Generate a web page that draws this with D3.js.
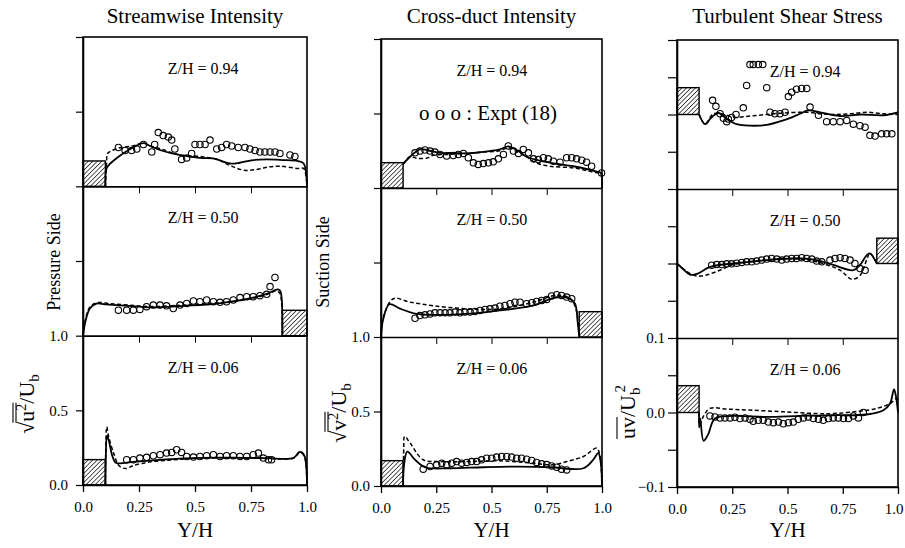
<!DOCTYPE html>
<html>
<head>
<meta charset="utf-8">
<script src="https://cdn.jsdelivr.net/npm/d3@7"></script>
<style>
body { margin: 0; background: #fff; }
text { font-family: "Liberation Serif", "Times New Roman", serif; fill: #000; }
</style>
</head>
<body>
<svg id="chart" width="905" height="548"></svg>
<script>
// stacked profiles: each column has three sub-panels (Z/H = 0.06, 0.50, 0.94)

const titles = ["Streamwise Intensity", "Cross-duct Intensity", "Turbulent Shear Stress"];
const zLabels = ["Z/H = 0.06", "Z/H = 0.50", "Z/H = 0.94"];
const xTicks = [0, 0.25, 0.5, 0.75, 1];
const xTickLabels = ["0.0", "0.25", "0.5", "0.75", "1.0"];

// hatched blocks per sub-panel: [x0, x1, height]
const uHatch = [[0, 0.1, 0.17], [0.89, 1, 0.17], [0, 0.1, 0.17]];
const vHatch = [[0, 0.1, 0.17], [0.897, 1, 0.17], [0, 0.1, 0.17]];
const uvHatch = [[0, 0.1, 0.036], [0.904, 1, 0.034], [0, 0.1, 0.036]];

// ---- streamwise intensity ----
const u06Solid = [[0.1,0],[0.102,0.2],[0.107,0.33],[0.115,0.3],[0.13,0.2],[0.145,0.15],[0.165,0.145],[0.225,0.155],[0.373,0.172],[0.522,0.182],[0.671,0.183],[0.82,0.18],[0.94,0.182],[0.965,0.22],[0.975,0.22],[0.99,0.19],[1.0,0]];
const u06Dashed = [[0.1,0],[0.102,0.25],[0.106,0.39],[0.115,0.32],[0.14,0.2],[0.16,0.13],[0.19,0.11],[0.225,0.13],[0.3,0.155],[0.4,0.168],[0.52,0.18],[0.671,0.182],[0.82,0.178],[0.94,0.18],[0.965,0.215],[0.975,0.215],[0.99,0.185],[1.0,0]];
const u06Expt = [[0.195,0.169],[0.225,0.169],[0.254,0.18],[0.284,0.185],[0.314,0.196],[0.344,0.203],[0.373,0.214],[0.396,0.218],[0.418,0.236],[0.44,0.218],[0.463,0.191],[0.493,0.187],[0.522,0.191],[0.552,0.196],[0.582,0.203],[0.612,0.191],[0.641,0.196],[0.671,0.196],[0.701,0.191],[0.731,0.191],[0.76,0.203],[0.783,0.214],[0.805,0.18],[0.828,0.169],[0.842,0.169]];

const u50Solid = [[0,0],[0.01,0.09],[0.03,0.18],[0.06,0.215],[0.1,0.21],[0.2,0.2],[0.3,0.19],[0.45,0.2],[0.6,0.215],[0.745,0.25],[0.82,0.28],[0.87,0.31],[0.88,0.3],[0.887,0.25],[0.89,0]];
const u50Dashed = [[0,0],[0.01,0.1],[0.03,0.19],[0.06,0.22],[0.12,0.215],[0.2,0.205],[0.3,0.195],[0.45,0.205],[0.6,0.22],[0.745,0.245],[0.82,0.275],[0.865,0.3],[0.88,0.28],[0.89,0]];
const u50Expt = [[0.158,0.171],[0.195,0.171],[0.225,0.171],[0.254,0.176],[0.284,0.194],[0.314,0.205],[0.344,0.205],[0.373,0.2],[0.403,0.182],[0.433,0.205],[0.463,0.216],[0.493,0.232],[0.522,0.227],[0.552,0.239],[0.582,0.227],[0.612,0.223],[0.641,0.227],[0.671,0.239],[0.701,0.255],[0.731,0.261],[0.76,0.261],[0.79,0.268],[0.82,0.277],[0.835,0.329],[0.857,0.39]];

const u94Solid = [[0.1,0],[0.105,0.12],[0.12,0.15],[0.16,0.2],[0.2,0.24],[0.27,0.29],[0.3,0.27],[0.35,0.24],[0.43,0.21],[0.52,0.19],[0.58,0.187],[0.655,0.153],[0.7,0.158],[0.76,0.176],[0.82,0.18],[0.89,0.176],[0.96,0.169],[0.985,0.153],[1.0,0]];
const u94Dashed = [[0.1,0],[0.105,0.15],[0.11,0.22],[0.13,0.24],[0.17,0.26],[0.22,0.27],[0.27,0.29],[0.3,0.27],[0.35,0.25],[0.43,0.21],[0.52,0.2],[0.6,0.18],[0.655,0.14],[0.72,0.108],[0.78,0.114],[0.83,0.13],[0.88,0.135],[0.96,0.12],[0.985,0.12],[1.0,0]];
const u94Expt = [[0.158,0.26],[0.188,0.24],[0.217,0.24],[0.24,0.25],[0.27,0.28],[0.307,0.23],[0.32,0.28],[0.336,0.36],[0.358,0.34],[0.381,0.33],[0.396,0.31],[0.41,0.25],[0.44,0.18],[0.463,0.19],[0.485,0.22],[0.5,0.28],[0.522,0.28],[0.545,0.28],[0.567,0.31],[0.597,0.25],[0.619,0.26],[0.641,0.28],[0.664,0.27],[0.693,0.26],[0.723,0.26],[0.745,0.25],[0.768,0.24],[0.79,0.23],[0.812,0.23],[0.835,0.23],[0.857,0.23],[0.879,0.22],[0.924,0.21],[0.946,0.2]];

// ---- cross-duct intensity ----
const v06Solid = [[0.1,0],[0.105,0.15],[0.119,0.23],[0.154,0.176],[0.199,0.126],[0.312,0.119],[0.463,0.126],[0.614,0.13],[0.764,0.126],[0.916,0.119],[0.96,0.176],[0.983,0.22],[0.995,0.15],[1.0,0]];
const v06Dashed = [[0.1,0],[0.103,0.25],[0.107,0.333],[0.131,0.29],[0.191,0.176],[0.267,0.164],[0.388,0.164],[0.538,0.169],[0.69,0.153],[0.78,0.142],[0.84,0.164],[0.916,0.198],[0.976,0.254],[0.99,0.21],[1.0,0]];
const v06Expt = [[0.191,0.113],[0.222,0.131],[0.252,0.142],[0.275,0.153],[0.297,0.142],[0.32,0.153],[0.342,0.164],[0.365,0.153],[0.388,0.158],[0.41,0.164],[0.433,0.164],[0.455,0.176],[0.478,0.187],[0.501,0.187],[0.523,0.194],[0.546,0.198],[0.569,0.198],[0.591,0.194],[0.614,0.187],[0.636,0.187],[0.659,0.18],[0.682,0.171],[0.704,0.158],[0.727,0.149],[0.75,0.144],[0.772,0.135],[0.795,0.126],[0.817,0.113],[0.84,0.108]];

const v50Solid = [[0,0],[0.01,0.12],[0.038,0.22],[0.086,0.19],[0.16,0.155],[0.237,0.149],[0.388,0.155],[0.538,0.178],[0.69,0.212],[0.795,0.268],[0.855,0.257],[0.878,0.223],[0.89,0.1],[0.897,0]];
const v50Dashed = [[0,0],[0.01,0.13],[0.056,0.257],[0.131,0.234],[0.237,0.21],[0.388,0.189],[0.538,0.189],[0.69,0.234],[0.795,0.28],[0.855,0.26],[0.882,0.189],[0.895,0.05],[0.9,0]];
const v50Expt = [[0.154,0.126],[0.176,0.144],[0.199,0.149],[0.222,0.155],[0.244,0.162],[0.267,0.162],[0.29,0.162],[0.312,0.162],[0.335,0.167],[0.357,0.162],[0.38,0.167],[0.403,0.167],[0.425,0.171],[0.448,0.178],[0.471,0.185],[0.493,0.189],[0.516,0.194],[0.538,0.207],[0.561,0.212],[0.584,0.223],[0.606,0.234],[0.629,0.234],[0.659,0.223],[0.682,0.23],[0.704,0.239],[0.727,0.245],[0.75,0.252],[0.772,0.275],[0.795,0.284],[0.817,0.279],[0.84,0.268],[0.863,0.257]];

const v94Solid = [[0.1,0.16],[0.131,0.21],[0.176,0.26],[0.22,0.25],[0.267,0.236],[0.33,0.235],[0.388,0.232],[0.45,0.24],[0.538,0.26],[0.576,0.28],[0.62,0.25],[0.658,0.21],[0.764,0.17],[0.87,0.146],[0.976,0.11],[0.995,0.1],[1.0,0]];
const v94Dashed = [[0.1,0.16],[0.131,0.21],[0.16,0.2],[0.206,0.2],[0.237,0.22],[0.3,0.225],[0.388,0.232],[0.45,0.24],[0.538,0.25],[0.576,0.27],[0.62,0.24],[0.658,0.21],[0.7,0.17],[0.764,0.146],[0.87,0.135],[0.95,0.11],[0.995,0.09],[1.0,0]];
const v94Expt = [[0.154,0.236],[0.176,0.248],[0.199,0.255],[0.222,0.248],[0.244,0.241],[0.267,0.225],[0.297,0.214],[0.327,0.218],[0.35,0.225],[0.373,0.232],[0.395,0.203],[0.418,0.169],[0.44,0.158],[0.463,0.164],[0.486,0.169],[0.508,0.176],[0.531,0.196],[0.554,0.225],[0.576,0.282],[0.599,0.248],[0.622,0.232],[0.644,0.259],[0.667,0.236],[0.69,0.196],[0.712,0.191],[0.735,0.203],[0.757,0.196],[0.78,0.18],[0.81,0.173],[0.84,0.203],[0.863,0.203],[0.885,0.196],[0.908,0.187],[0.93,0.173],[0.953,0.146],[0.998,0.101]];

// ---- turbulent shear stress ----
const uv06Solid = [[0.1,0],[0.1,-0.02],[0.105,-0.008],[0.12,-0.038],[0.14,-0.03],[0.172,-0.008],[0.255,-0.0046],[0.406,-0.006],[0.557,-0.0046],[0.707,-0.0037],[0.858,-0.0027],[0.934,0.003],[0.964,0.012],[0.982,0.031],[0.99,0.023],[1.0,0]];
const uv06Dashed = [[0.1,0],[0.102,-0.017],[0.12,-0.005],[0.149,0.0055],[0.225,0.0046],[0.33,0.0032],[0.481,0.001],[0.632,-0.0014],[0.707,-0.0014],[0.828,0.0018],[0.904,0.0055],[0.964,0.012],[0.994,0.019],[1.0,0.016]];
const uv06Expt = [[0.149,-0.0046],[0.172,-0.0059],[0.195,-0.0073],[0.217,-0.0073],[0.24,-0.0073],[0.262,-0.0064],[0.285,-0.0082],[0.308,-0.0073],[0.33,-0.0091],[0.345,-0.0119],[0.368,-0.0105],[0.39,-0.0105],[0.413,-0.0128],[0.436,-0.0137],[0.459,-0.0128],[0.481,-0.0151],[0.504,-0.0137],[0.526,-0.0128],[0.549,-0.0091],[0.572,-0.0073],[0.594,-0.0059],[0.617,-0.0082],[0.64,-0.0091],[0.662,-0.0105],[0.685,-0.0082],[0.707,-0.0073],[0.73,-0.0073],[0.753,-0.0082],[0.776,-0.0082],[0.798,-0.0046],[0.821,-0.0073],[0.843,0]];

const uv50Solid = [[0,0],[0.03,-0.008],[0.059,-0.015],[0.09,-0.014],[0.149,-0.0046],[0.255,0],[0.406,0.0046],[0.557,0.007],[0.632,0.0046],[0.707,-0.002],[0.798,-0.009],[0.828,-0.002],[0.858,0.011],[0.873,0.0135],[0.896,0.0046],[0.904,0]];
const uv50Dashed = [[0,0],[0.04,-0.01],[0.09,-0.017],[0.149,-0.014],[0.21,-0.007],[0.255,-0.0014],[0.406,0.0046],[0.557,0.006],[0.632,0.0023],[0.738,-0.009],[0.79,-0.021],[0.828,-0.016],[0.858,0.0046],[0.873,0.0137],[0.896,0.0046],[0.904,0]];
const uv50Expt = [[0.157,-0.0023],[0.18,-0.0014],[0.202,-0.0014],[0.225,-0.0005],[0.247,-0.0005],[0.27,0.0005],[0.293,0.0014],[0.315,0.0023],[0.338,0.0023],[0.36,0.0032],[0.383,0.0046],[0.406,0.0059],[0.428,0.0068],[0.451,0.0059],[0.474,0.0046],[0.496,0.0059],[0.519,0.0068],[0.541,0.0068],[0.564,0.0078],[0.587,0.0068],[0.61,0.0059],[0.632,0.0032],[0.655,0.0023],[0.692,0.0046],[0.715,0.0068],[0.738,0.0078],[0.76,0.0068],[0.783,0.0046],[0.805,0],[0.828,-0.0068],[0.851,-0.0091]];

const uv94Solid = [[0.1,0],[0.127,-0.013],[0.15,-0.006],[0.172,0.0],[0.19,0.002],[0.225,-0.006],[0.27,-0.013],[0.33,-0.015],[0.406,-0.014],[0.481,-0.008],[0.557,0.001],[0.594,0.0055],[0.647,0.003],[0.738,-0.002],[0.83,0],[0.934,-0.001],[1.0,0.003]];
const uv94Dashed = [[0.1,0],[0.127,-0.013],[0.165,0.001],[0.225,-0.001],[0.255,-0.004],[0.33,-0.002],[0.406,0],[0.481,0.002],[0.587,0.003],[0.647,0.001],[0.707,0],[0.783,0.001],[0.858,0.003],[0.934,0.001],[1.0,0]];
const uv94Expt = [[0.161,0.019],[0.176,0.011],[0.195,0.001],[0.21,-0.005],[0.225,-0.0096],[0.232,-0.006],[0.247,-0.004],[0.267,0],[0.3,0.009],[0.315,0.039],[0.33,0.067],[0.345,0.067],[0.368,0.067],[0.388,0.067],[0.406,0.036],[0.421,0.003],[0.443,0.001],[0.466,0.001],[0.489,0.003],[0.504,0.024],[0.519,0.03],[0.541,0.034],[0.564,0.035],[0.587,0.035],[0.602,0.01],[0.64,-0.001],[0.677,-0.0096],[0.707,-0.0096],[0.738,-0.0096],[0.768,-0.008],[0.798,-0.013],[0.828,-0.015],[0.851,-0.017],[0.873,-0.028],[0.896,-0.029],[0.926,-0.026],[0.949,-0.026],[0.972,-0.026]];

const columns = [
	{
		left: 83, right: 307, top: 37, bottom: 485, domain: [0, 3], offsets: [0, 1, 2], dividers: [1, 2],
		yTicks: d3.range(0, 3.01, 0.5), yLabelVals: [0, 0.5, 1], yLabels: ["0.0", "0.5", "1.0"], pad: 8, tick: 7,
		zX: 0.536, hatch: uHatch,
		panels: [
			{ solid: u06Solid, dashed: u06Dashed, expt: u06Expt },
			{ solid: u50Solid, dashed: u50Dashed, expt: u50Expt },
			{ solid: u94Solid, dashed: u94Dashed, expt: u94Expt }
		]
	},
	{
		left: 381, right: 602, top: 39, bottom: 486, domain: [0, 3], offsets: [0, 1, 2], dividers: [1, 2],
		yTicks: d3.range(0, 3.01, 0.5), yLabelVals: [0, 0.5, 1], yLabels: ["0.0", "0.5", "1.0"], pad: 4, tick: 7,
		zX: 0.502, hatch: vHatch,
		panels: [
			{ solid: v06Solid, dashed: v06Dashed, expt: v06Expt },
			{ solid: v50Solid, dashed: v50Dashed, expt: v50Expt },
			{ solid: v94Solid, dashed: v94Dashed, expt: v94Expt }
		]
	},
	{
		left: 677, right: 898, top: 40, bottom: 487, domain: [-0.1, 0.5], offsets: [0, 0.2, 0.4], dividers: [0.1, 0.3],
		yTicks: d3.range(-0.1, 0.501, 0.05), yLabelVals: [-0.1, 0, 0.1], yLabels: ["\u22120.1", "0.0", "0.1"], pad: 3, tick: 9,
		zX: 0.58, hatch: uvHatch,
		panels: [
			{ solid: uv06Solid, dashed: uv06Dashed, expt: uv06Expt },
			{ solid: uv50Solid, dashed: uv50Dashed, expt: uv50Expt },
			{ solid: uv94Solid, dashed: uv94Dashed, expt: uv94Expt }
		]
	}
];

const svg = d3.select("#chart");
const serif = "'Liberation Serif', 'Times New Roman', serif";

const defs = svg.append("defs");
defs.append("pattern")
	.attr("id", "hatch")
	.attr("patternUnits", "userSpaceOnUse")
	.attr("width", 3.2)
	.attr("height", 3.2)
	.attr("patternTransform", "rotate(45)")
	.append("line")
	.attr("x1", 0).attr("y1", 0).attr("x2", 0).attr("y2", 3.2)
	.attr("stroke", "#000")
	.attr("stroke-width", 1.3);

columns.forEach((col, ci) => {
	const x = d3.scaleLinear().domain([0, 1]).range([col.left, col.right]);
	const y = d3.scaleLinear().domain(col.domain).range([col.bottom, col.top]);
	const g = svg.append("g");

	// hatched blocks
	col.hatch.forEach((h, pi) => {
		const off = col.offsets[pi];
		g.append("rect")
			.attr("x", x(h[0]))
			.attr("y", y(off + h[2]))
			.attr("width", x(h[1]) - x(h[0]))
			.attr("height", y(off) - y(off + h[2]))
			.attr("fill", "url(#hatch)")
			.attr("stroke", "#000")
			.attr("stroke-width", 1.4);
	});

	col.panels.forEach((p, pi) => {
		const off = col.offsets[pi];
		const line = d3.line()
			.x(d => x(d[0]))
			.y(d => y(d[1] + off))
			.curve(d3.curveCatmullRom.alpha(0.5));

		g.append("path")
			.attr("d", line(p.solid))
			.attr("fill", "none")
			.attr("stroke", "#000")
			.attr("stroke-width", 1.8);

		g.append("path")
			.attr("d", line(p.dashed))
			.attr("fill", "none")
			.attr("stroke", "#000")
			.attr("stroke-width", 1.5)
			.attr("stroke-dasharray", "4,2.5");

		g.selectAll(null)
			.data(p.expt)
			.join("circle")
			.attr("cx", d => x(d[0]))
			.attr("cy", d => y(d[1] + off))
			.attr("r", 3.2)
			.attr("fill", "none")
			.attr("stroke", "#000")
			.attr("stroke-width", 1.1);

		// Z/H label, a fixed distance under each sub-panel's top edge
		const panelTop = pi < 2 ? y(col.dividers[pi]) : col.top;
		g.append("text")
			.attr("x", x(col.zX))
			.attr("y", panelTop + 37)
			.attr("text-anchor", "middle")
			.attr("font-size", 16)
			.text(zLabels[pi]);
	});

	// frame
	g.append("rect")
		.attr("x", col.left)
		.attr("y", col.top)
		.attr("width", col.right - col.left)
		.attr("height", col.bottom - col.top)
		.attr("fill", "none")
		.attr("stroke", "#000")
		.attr("stroke-width", 1.6);

	// dividers between sub-panels, with ticks pointing down
	col.dividers.forEach(dv => {
		g.append("g")
			.attr("transform", `translate(0,${y(dv)})`)
			.call(d3.axisBottom(x).tickValues([0.25, 0.5, 0.75]).tickSize(7).tickSizeOuter(0).tickFormat(""))
			.call(a => a.select(".domain").attr("stroke-width", 1.6));
	});

	const xAxis = g.append("g")
		.attr("transform", `translate(0,${col.bottom})`)
		.call(d3.axisBottom(x).tickValues(xTicks).tickFormat((d, i) => xTickLabels[i]).tickSize(7).tickSizeOuter(0).tickPadding(9));
	xAxis.select(".domain").attr("stroke-width", 1.6);
	xAxis.selectAll(".tick line").attr("stroke-width", 1.3);
	xAxis.selectAll("text").attr("font-family", serif).attr("font-size", 15);

	const yAxis = g.append("g")
		.attr("transform", `translate(${col.left},0)`)
		.call(d3.axisLeft(y).tickValues(col.yTicks).tickSize(col.tick).tickSizeOuter(0).tickPadding(col.pad)
			.tickFormat(d => {
				const i = col.yLabelVals.findIndex(v => Math.abs(v - d) < 1e-9);
				return i >= 0 ? col.yLabels[i] : "";
			}));
	yAxis.select(".domain").attr("stroke-width", 1.6);
	yAxis.selectAll(".tick line").attr("stroke-width", 1.2);
	yAxis.selectAll("text").attr("font-family", serif).attr("font-size", 15);

	// column title and x label
	svg.append("text")
		.attr("x", (col.left + col.right) / 2)
		.attr("y", 23)
		.attr("text-anchor", "middle")
		.attr("font-size", 21)
		.text(titles[ci]);

	svg.append("text")
		.attr("x", (col.left + col.right) / 2)
		.attr("y", 537)
		.attr("text-anchor", "middle")
		.attr("font-size", 21)
		.text("Y/H");
});

// the right-most x tick label sits against the page edge; keep it inside
svg.selectAll("g.tick text").filter(function () { return this.getBoundingClientRect().right > 903; })
	.attr("text-anchor", "end").attr("dx", 5);

// legend note in the cross-duct top panel
svg.append("text")
	.attr("x", 488)
	.attr("y", 120)
	.attr("text-anchor", "middle")
	.attr("font-size", 21)
	.text("o o o : Expt (18)");

// side labels
function sideLabel(x, y, txt) {
	svg.append("text")
		.attr("transform", `translate(${x},${y}) rotate(-90)`)
		.attr("text-anchor", "middle")
		.attr("font-size", 18)
		.text(txt);
}
sideLabel(60, 262, "Pressure Side");
sideLabel(329, 262, "Suction Side");

// rms label: sqrt of overlined q squared over U_b
function rmsLabel(x, y, q) {
	const grp = svg.append("g").attr("transform", `translate(${x},${y}) rotate(-90)`);
	const t = grp.append("text").attr("font-size", 22).attr("text-anchor", "middle");
	t.append("tspan").text("\u221a");
	t.append("tspan").text(q);
	t.append("tspan").attr("dy", -8).attr("font-size", 14).text("2");
	t.append("tspan").attr("dy", 8).text("/U");
	t.append("tspan").attr("dy", 5).attr("font-size", 15).text("b");
	const node = t.node();
	const a = node.getExtentOfChar(1), b = node.getExtentOfChar(2), s = node.getExtentOfChar(0);
	[a.y - 1, a.y + 2].forEach(yy => {
		grp.append("line")
			.attr("x1", s.x + s.width - 1).attr("x2", b.x + b.width + 1)
			.attr("y1", yy).attr("y2", yy)
			.attr("stroke", "#000").attr("stroke-width", 1.1);
	});
}
rmsLabel(34, 404, "u");
rmsLabel(346, 413, "v");

// shear stress label: overlined uv over U_b squared
(function () {
	const grp = svg.append("g").attr("transform", "translate(635,412) rotate(-90)");
	const t = grp.append("text").attr("font-size", 22).attr("text-anchor", "middle");
	t.append("tspan").text("uv/U");
	t.append("tspan").attr("dy", 5).attr("font-size", 15).text("b");
	t.append("tspan").attr("dy", -15).attr("dx", -5).attr("font-size", 15).text("2");
	const node = t.node();
	const a = node.getExtentOfChar(0), b = node.getExtentOfChar(1);
	grp.append("line")
		.attr("x1", a.x).attr("x2", b.x + b.width)
		.attr("y1", a.y + 2).attr("y2", a.y + 2)
		.attr("stroke", "#000").attr("stroke-width", 1.1);
})();
</script>
</body>
</html>
